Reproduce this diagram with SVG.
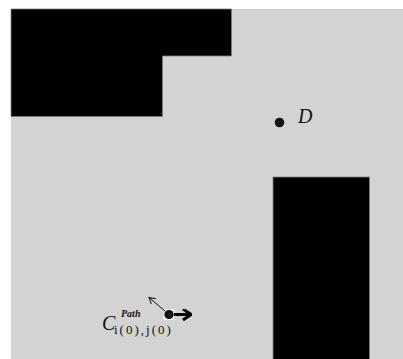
<svg xmlns="http://www.w3.org/2000/svg" width="403" height="359" viewBox="0 0 403 359">
  <style>
    .obstacle { fill: #000; stroke: #808080; stroke-width: 0.8; }
    .math { font-family: "Liberation Serif", serif; fill: #111; }
    .dot { fill: #111; }
  </style>
  <defs>
    <marker id="thinHead" markerWidth="8" markerHeight="8" refX="7" refY="4" orient="auto" markerUnits="userSpaceOnUse">
      <path d="M1,0.5 L7,4 L1,7.5" fill="none" stroke="#111" stroke-width="1"/>
    </marker>
    <marker id="boldHead" markerWidth="10" markerHeight="12" refX="9" refY="6" orient="auto" markerUnits="userSpaceOnUse">
      <path d="M1,0.5 L9,6 L1,11.5" fill="none" stroke="#000" stroke-width="3"/>
    </marker>
  </defs>

  <rect x="0" y="0" width="403" height="359" fill="#fff"/>
  <!-- workspace -->
  <rect x="11" y="9" width="392" height="350" fill="#d3d3d3"/>

  <!-- obstacles -->
  <g id="obstacle-top-left">
    <path class="obstacle" d="M11,9 H231.5 V56 H162.5 V116.5 H11 Z"/>
  </g>
  <g id="obstacle-right">
    <rect class="obstacle" x="273" y="177" width="96.5" height="183"/>
  </g>

  <!-- destination -->
  <g id="destination">
    <circle class="dot" cx="279.5" cy="122.5" r="4.8"/>
    <text class="math" x="298" y="123" font-size="20" font-style="italic">D</text>
  </g>

  <!-- robot cell and its label -->
  <g id="robot">
    <rect x="163.5" y="309" width="11" height="11" fill="#eee"/>
    <circle class="dot" cx="169" cy="314.5" r="4.6"/>
    <text class="math" x="102" y="330" font-size="20" font-style="italic">C</text>
    <text class="math" x="121" y="317" font-size="10" font-style="italic" font-weight="bold">Path</text>
    <text class="math" x="114" y="334" font-size="13" letter-spacing="2">i(0),j(0)</text>
  </g>

  <!-- motion directions -->
  <g id="connectors">
    <line x1="165" y1="311" x2="149" y2="297.5" stroke="#111" stroke-width="1" marker-end="url(#thinHead)"/>
    <line x1="174" y1="314.5" x2="191" y2="314.5" stroke="#000" stroke-width="3" marker-end="url(#boldHead)"/>
  </g>
</svg>
